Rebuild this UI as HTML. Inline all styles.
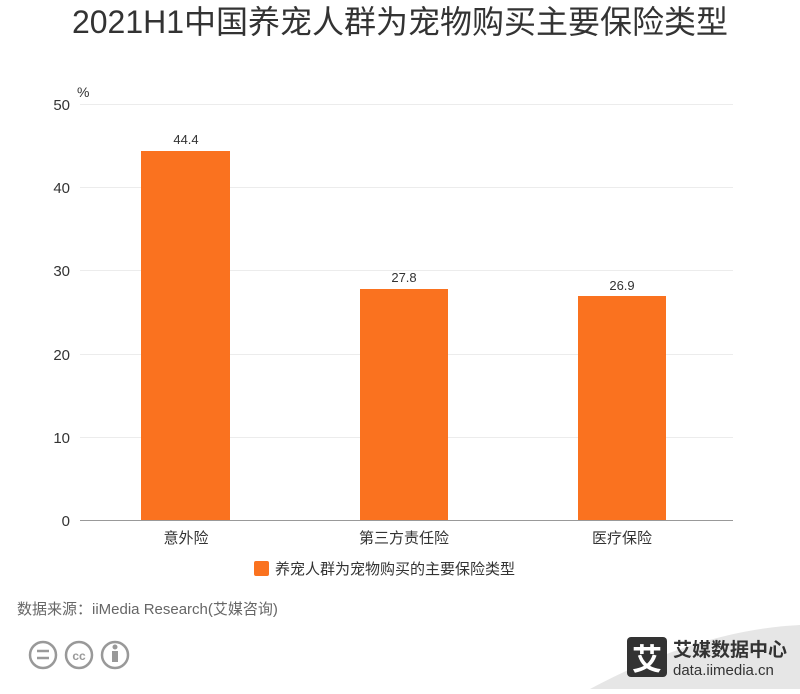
<!DOCTYPE html><html><head><meta charset="utf-8"><style>
body{margin:0;background:#fff;width:800px;height:689px;overflow:hidden;font-family:"Liberation Sans","Noto Sans CJK SC",sans-serif}
</style></head><body>
<svg width="800" height="689" xmlns="http://www.w3.org/2000/svg" font-family="Liberation Sans, Noto Sans CJK SC, sans-serif">
<text x="400" y="33" text-anchor="middle" font-size="32" fill="#333">2021H1中国养宠人群为宠物购买主要保险类型</text>
<text x="77" y="97" font-size="14" fill="#333">%</text>
<g stroke="#ececec" stroke-width="1">
<line x1="80" y1="104.5" x2="733" y2="104.5"/><line x1="80" y1="187.5" x2="733" y2="187.5"/><line x1="80" y1="270.5" x2="733" y2="270.5"/><line x1="80" y1="354.5" x2="733" y2="354.5"/><line x1="80" y1="437.5" x2="733" y2="437.5"/>
</g>
<line x1="80" y1="520.5" x2="733" y2="520.5" stroke="#999"/>
<g font-size="15" fill="#333" text-anchor="end">
<text x="70" y="110">50</text><text x="70" y="193">40</text><text x="70" y="276">30</text><text x="70" y="360">20</text><text x="70" y="443">10</text><text x="70" y="526">0</text></g>
<g fill="#fa721f">
<rect x="141" y="151" width="89" height="369"/><rect x="360" y="289" width="88" height="231"/><rect x="578" y="296" width="88" height="224"/></g>
<g font-size="13" fill="#333" text-anchor="middle">
<text x="186" y="144">44.4</text><text x="404" y="282">27.8</text><text x="622" y="290">26.9</text></g>
<g font-size="15" fill="#333" text-anchor="middle">
<text x="186" y="543">意外险</text><text x="404" y="543">第三方责任险</text><text x="622" y="543">医疗保险</text></g>
<rect x="254" y="561" width="15" height="15" rx="2" fill="#fa721f"/>
<text x="275" y="574" font-size="15" fill="#333">养宠人群为宠物购买的主要保险类型</text>
<text x="17" y="614" font-size="15" fill="#666">数据来源：iiMedia Research(艾媒咨询)</text>
<g fill="none" stroke="#999" stroke-width="2.5">
<circle cx="43" cy="655" r="13"/><circle cx="79" cy="655" r="13"/><circle cx="115" cy="655" r="13"/></g>
<g stroke="#999" stroke-width="2.5"><line x1="37" y1="651" x2="49" y2="651"/><line x1="37" y1="658" x2="49" y2="658"/></g>
<text x="79" y="660" font-size="12" fill="#999" text-anchor="middle" font-weight="bold">cc</text>
<circle cx="115" cy="647" r="2.5" fill="#999"/><rect x="112" y="651" width="6" height="11" fill="#999"/>
<path d="M590 689 Q700 630 800 625 L800 689 Z" fill="#e6e6e6"/>
<rect x="627" y="637" width="40" height="40" rx="4" fill="#333"/>
<text x="647" y="670" font-size="30" fill="#fff" text-anchor="middle" font-weight="bold">艾</text>
<text x="673" y="656" font-size="19" fill="#333" font-weight="bold">艾媒数据中心</text>
<text x="673" y="675" font-size="15" fill="#333">data.iimedia.cn</text>
</svg></body></html>
